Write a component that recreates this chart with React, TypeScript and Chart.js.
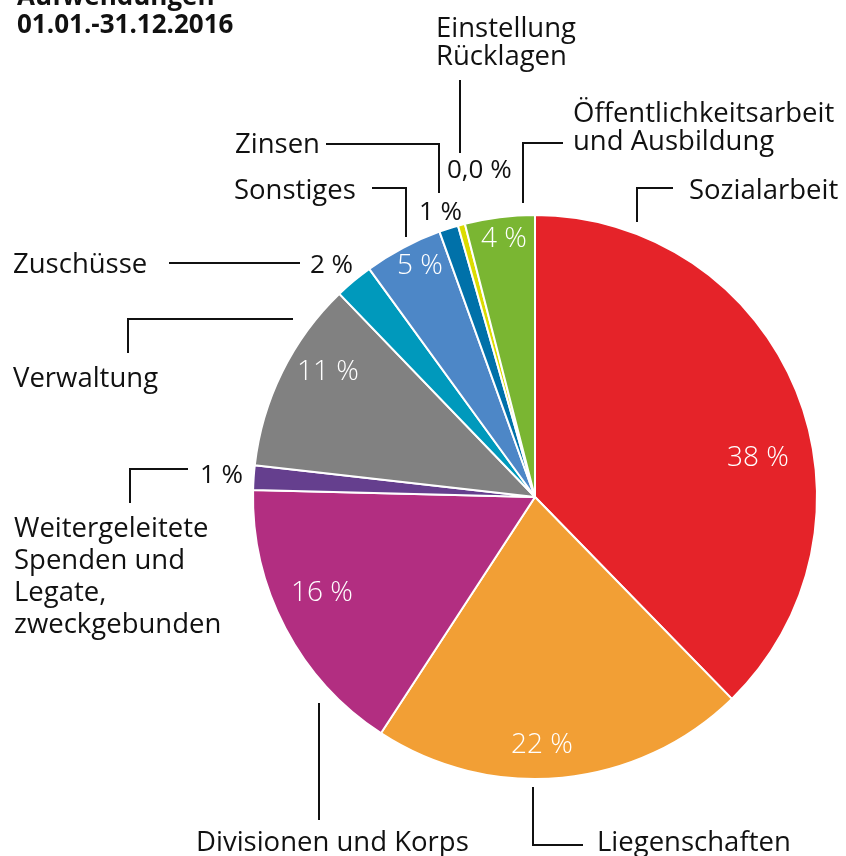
import React, { useEffect, useRef } from "react";
import { Chart, registerables } from "chart.js";

Chart.register(...registerables);

// ---- data ----
const categories = [
  "Sozialarbeit",
  "Liegenschaften",
  "Divisionen und Korps",
  "Weitergeleitete Spenden und Legate, zweckgebunden",
  "Verwaltung",
  "Zuschüsse",
  "Sonstiges",
  "Zinsen",
  "Einstellung Rücklagen",
  "Öffentlichkeitsarbeit und Ausbildung",
];
const shares = [37.7, 21.5, 16.2, 1.4, 11.0, 2.2, 4.5, 1.1, 0.4, 4.0];
const shareLabels = ["38 %", "22 %", "16 %", "1 %", "11 %", "2 %", "5 %", "1 %", "0,0 %", "4 %"];
const colors = [
  "#E52329",
  "#F29F35",
  "#B22E81",
  "#653F8E",
  "#818181",
  "#0099BC",
  "#4D87C7",
  "#0071A9",
  "#DCDC00",
  "#7AB632",
];
const titleLines = ["Aufwendungen", "01.01.-31.12.2016"];

// ---- annotation layout (label text positions & leader lines) ----
const FONT = "'Open Sans', 'DejaVu Sans', sans-serif";
type Pt = [number, number];
interface LabelLayout {
  text: string[]; // category name lines
  x: number;
  y: number[]; // baselines
  pct: { x: number; y: number; inside: boolean; align: CanvasTextAlign };
  line: Pt[];
}
const layout: LabelLayout[] = [
  { text: ["Sozialarbeit"], x: 689, y: [199], pct: { x: 758, y: 466, inside: true, align: "center" }, line: [[637, 222], [637, 188], [673, 188]] },
  { text: ["Liegenschaften"], x: 597, y: [851], pct: { x: 542, y: 753, inside: true, align: "center" }, line: [[533, 787], [533, 845], [583, 845]] },
  { text: ["Divisionen und Korps"], x: 196, y: [851], pct: { x: 322, y: 601, inside: true, align: "center" }, line: [[319, 703], [319, 820]] },
  { text: ["Weitergeleitete", "Spenden und", "Legate,", "zweckgebunden"], x: 14, y: [537, 569, 601, 633], pct: { x: 200, y: 483, inside: false, align: "left" }, line: [[188, 469], [130, 469], [130, 503]] },
  { text: ["Verwaltung"], x: 13, y: [387], pct: { x: 328, y: 380, inside: true, align: "center" }, line: [[293, 319], [128, 319], [128, 353]] },
  { text: ["Zuschüsse"], x: 13, y: [273], pct: { x: 310, y: 273, inside: false, align: "left" }, line: [[169, 263], [300, 263]] },
  { text: ["Sonstiges"], x: 234, y: [199], pct: { x: 420, y: 274, inside: true, align: "center" }, line: [[372, 188], [406, 188], [406, 237]] },
  { text: ["Zinsen"], x: 235, y: [153], pct: { x: 419, y: 220, inside: false, align: "left" }, line: [[326, 144], [439, 144], [439, 193]] },
  { text: ["Einstellung", "Rücklagen"], x: 436, y: [37, 65], pct: { x: 447, y: 178, inside: false, align: "left" }, line: [[460, 80], [460, 153]] },
  { text: ["Öffentlichkeitsarbeit", "und Ausbildung"], x: 573, y: [122, 150], pct: { x: 504, y: 247, inside: true, align: "center" }, line: [[523, 203], [523, 143], [563, 143]] },
];

const labelPlugin = {
  id: "pieLabels",
  afterDraw(chart: Chart) {
    const ctx = chart.ctx;
    ctx.save();
    // title
    ctx.fillStyle = "#111";
    ctx.font = `bold 26px ${FONT}`;
    ctx.textAlign = "left";
    ctx.textBaseline = "alphabetic";
    ctx.fillText(titleLines[0], 17, 5);
    ctx.fillText(titleLines[1], 17, 33);

    layout.forEach((l, i) => {
      // leader line
      ctx.strokeStyle = "#111";
      ctx.lineWidth = 2;
      ctx.lineCap = "butt";
      ctx.lineJoin = "miter";
      ctx.beginPath();
      l.line.forEach((p, k) => (k === 0 ? ctx.moveTo(p[0], p[1]) : ctx.lineTo(p[0], p[1])));
      ctx.stroke();
      // category text
      ctx.fillStyle = "#111";
      ctx.font = `400 27.5px ${FONT}`;
      ctx.textAlign = "left";
      l.text.forEach((t, k) => ctx.fillText(t, l.x, l.y[k]));
      // percentage
      ctx.fillStyle = l.pct.inside ? "#ffffff" : "#111";
      ctx.font = `${l.pct.inside ? 300 : 400} ${l.pct.inside ? 28 : 26}px ${FONT}`;
      ctx.textAlign = l.pct.align;
      ctx.fillText(shareLabels[i], l.pct.x, l.pct.y);
    });
    ctx.restore();
  },
};

export default function App() {
  const ref = useRef<HTMLCanvasElement | null>(null);
  useEffect(() => {
    if (!ref.current) return;
    const chart = new Chart(ref.current, {
      type: "pie",
      data: {
        labels: categories,
        datasets: [
          {
            data: shares,
            backgroundColor: colors,
            borderColor: "#ffffff",
            borderWidth: 2,
          },
        ],
      },
      options: {
        responsive: false,
        animation: false,
        devicePixelRatio: 1,
        layout: { padding: { left: 252, right: 28, top: 214, bottom: 76 } },
        plugins: {
          legend: { display: false },
          tooltip: { enabled: false },
          title: { display: false },
        },
      },
      plugins: [labelPlugin],
    });
    return () => chart.destroy();
  }, []);
  return (
    <div style={{ position: "fixed", left: 0, top: 0, width: 846, height: 856, background: "#fff" }}>
      <canvas ref={ref} width={846} height={856} style={{ display: "block" }} />
    </div>
  );
}
